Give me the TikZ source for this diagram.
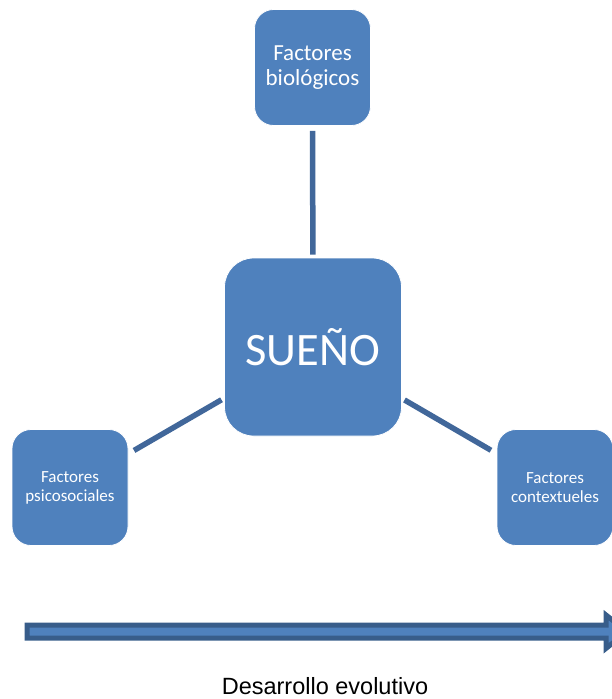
\documentclass[tikz,border=0pt]{standalone}
\usepackage{fontspec}
\setmainfont{Carlito}
\newfontfamily\arialfont{Liberation Sans}
\definecolor{boxblue}{HTML}{4F81BD}
\definecolor{linkblue}{HTML}{41679A}
\definecolor{arrowdark}{HTML}{385D8A}
\tikzset{
  fbox/.style={rectangle, rounded corners=19pt, fill=boxblue, draw=white, line width=0.8pt,
    minimum width=116pt, minimum height=116pt, inner sep=0pt, text=white, align=center},
  bigbox/.style={fbox, rounded corners=29pt, minimum width=177pt, minimum height=178pt},
  link/.style={draw=linkblue, line width=5.5pt},
}
\begin{document}
\begin{tikzpicture}[x=1pt,y=-1pt]
\useasboundingbox (0,0) rectangle (612,699);
\clip (0,0) rectangle (612,699);
\node[bigbox, font=\fontsize{46.5}{52}\selectfont] (sueno) at (313,347) {SUEÑO};
\node[fbox, font=\fontsize{23}{25}\selectfont] (bio) at (312.5,67.5) {Factores\\biológicos};
\node[fbox, font=\fontsize{17}{19}\selectfont] (psi) at (70,487.5) {Factores\\psicosociales};
\node[fbox, font=\fontsize{17}{19}\selectfont] (ctx) at (555,487.5) {Factores\\contextueles};
\draw[link, shorten <=5pt, shorten >=3pt] (bio) -- (sueno);
\draw[link, shorten <=6.5pt, shorten >=3pt] (psi) -- (sueno);
\draw[link, shorten <=6.5pt, shorten >=3pt] (ctx) -- (sueno);
% block arrow
\coordinate (astart) at (27,631.7);
\coordinate (atip) at (627,631.7);
\draw[fill=boxblue, draw=arrowdark, line width=5pt, line join=miter]
  (27,625.2) -- (606,625.2) -- (606,615) -- (atip) -- (606,648.4) -- (606,638.2) -- (27,638.2) -- cycle;
\node[font=\arialfont\fontsize{23.5}{26}\selectfont, anchor=base, inner sep=0pt] (dev) at (325,694) {Desarrollo evolutivo};
\end{tikzpicture}
\end{document}
